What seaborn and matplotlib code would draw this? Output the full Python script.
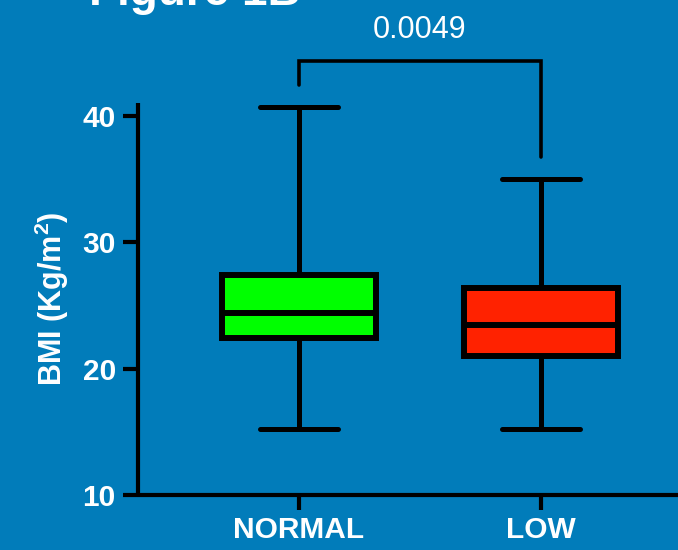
import numpy as np
import pandas as pd
import matplotlib
matplotlib.use("Agg")
import matplotlib.pyplot as plt
import seaborn as sns

# ---- data ----
groups = ["NORMAL", "LOW"]
normal_stats = [15.2, 22.4, 24.4, 27.4, 40.7]   # min, Q1, median, Q3, max
low_stats = [15.2, 21.0, 23.45, 26.4, 35.0]
box_colors = ["#00FF00", "#FF2200"]
p_value_text = "0.0049"
bracket_left_bottom = 42.5
bracket_right_bottom = 36.8
bracket_top = 44.4
yticks = [10, 20, 30, 40]
title_text = "Figure 1B"
ylabel_text = r"BMI (Kg/m$^{\mathbf{2}}$)"

BG = "#017CBA"

sns.set_theme(style="ticks")
plt.rcParams["font.family"] = ["Liberation Sans", "DejaVu Sans"]
plt.rcParams["mathtext.fontset"] = "custom"
plt.rcParams["mathtext.rm"] = "Liberation Sans"
plt.rcParams["mathtext.bf"] = "Liberation Sans:bold"

df = pd.DataFrame({
    "group": [groups[0]] * len(normal_stats) + [groups[1]] * len(low_stats),
    "bmi": normal_stats + low_stats,
})

fig = plt.figure(figsize=(6.78, 5.5), dpi=100, facecolor=BG)
ax = fig.add_axes([138 / 678, 55 / 550, 1 - 138 / 678, 467.3 / 550])
ax.set_facecolor(BG)

lw_box = 4.3
lw_wh = 3.6
sns.boxplot(
    data=df, x="group", y="bmi", hue="group", order=groups, hue_order=groups,
    palette=box_colors, saturation=1, whis=(0, 100), width=0.64,
    showfliers=False, linecolor="black", linewidth=lw_box, legend=False,
    boxprops=dict(linewidth=lw_box, edgecolor="black", joinstyle="miter"),
    medianprops=dict(linewidth=lw_box, color="black", solid_capstyle="butt"),
    whiskerprops=dict(linewidth=lw_wh, color="black", solid_capstyle="butt"),
    capprops=dict(linewidth=lw_wh, color="black", solid_capstyle="round"),
    ax=ax,
)

ax.set_xlim(-0.665, 1.566)
ax.set_ylim(10, 47)
ax.set_yticks(yticks)
ax.spines["left"].set_bounds(10, 41)
for s in ["top", "right"]:
    ax.spines[s].set_visible(False)
for s in ["left", "bottom"]:
    ax.spines[s].set_linewidth(3)
    ax.spines[s].set_color("black")
    ax.spines[s].set_capstyle("butt")

ax.tick_params(axis="both", direction="out", length=11, width=3, color="black",
               labelcolor="white", labelsize=21.5)
ax.tick_params(axis="y", pad=5)
ax.tick_params(axis="x", pad=4)
for lab in ax.get_xticklabels() + ax.get_yticklabels():
    lab.set_fontweight("bold")

ax.set_xlabel("")
ax.set_ylabel(ylabel_text, color="white", fontsize=22, fontweight="bold", labelpad=8)
ax.yaxis.label.set_y((25.5 - 10) / 37)

# significance bracket
ax.plot([0, 0, 1, 1], [bracket_left_bottom, bracket_top, bracket_top, bracket_right_bottom],
        color="black", lw=2.6, solid_joinstyle="miter", clip_on=False)
ax.text(0.5, 45.6, p_value_text, ha="center", va="bottom", color="white", fontsize=22)

fig.text(89 / 678, 1 - 5 / 550, title_text, ha="left", va="baseline", color="white",
         fontsize=33, fontweight="bold")

fig.savefig("out.png", dpi=100, facecolor=BG)
